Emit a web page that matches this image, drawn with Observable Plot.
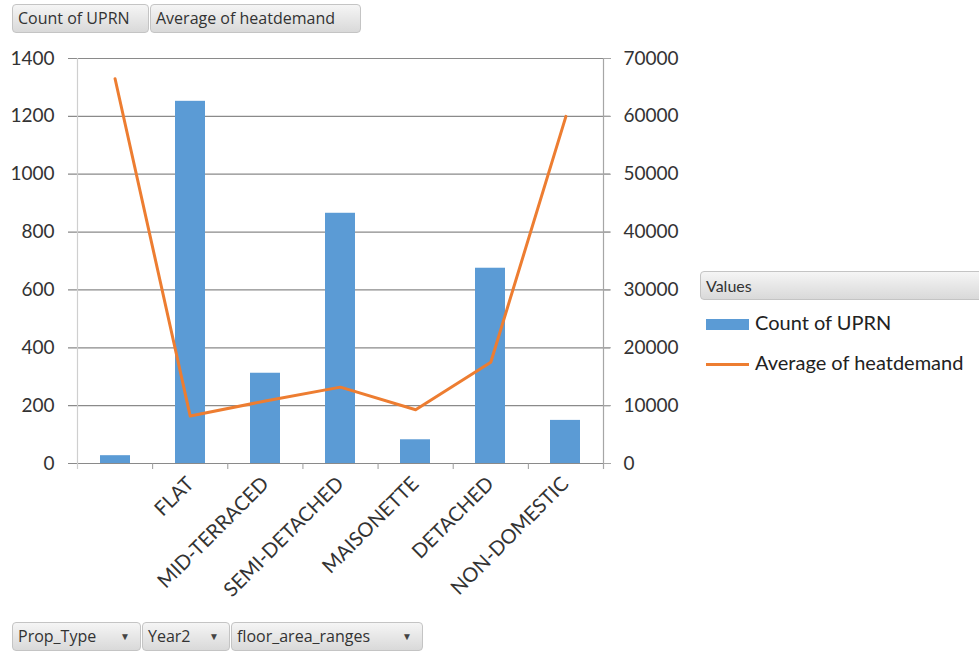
<!DOCTYPE html>
<html>
<head>
<meta charset="utf-8">
<script src="https://cdn.jsdelivr.net/npm/d3@7"></script>
<script src="https://cdn.jsdelivr.net/npm/@observablehq/plot@0.6"></script>
<style>
  html, body { margin: 0; padding: 0; background: #fff; }
  #wrap { position: relative; width: 979px; height: 652px; overflow: hidden; font-family: "Open Sans", sans-serif; }
  .btn {
    position: absolute; box-sizing: border-box; height: 29px;
    background: linear-gradient(#f5f5f5, #d9d9d9);
    border: 1px solid #c4c4c4; border-radius: 4px;
    color: #333; font-size: 16px; line-height: 27px; padding-left: 5px; white-space: nowrap;
  }
  .arrow { position: absolute; right: 10px; top: 0; font-size: 10px; color: #444; }
  .layer { position: absolute; left: 0; top: 0; }
  #legend { position: absolute; left: 700px; top: 271px; width: 300px; font-family: "Lato", sans-serif; }
  .item { position: absolute; left: 6px; font-size: 20px; color: #222; white-space: nowrap; }
  .item .sw { display: inline-block; width: 43px; vertical-align: middle; margin-right: 6px; }
</style>
</head>
<body>
<div id="wrap">
  <div class="btn" style="left:12px;top:4px;width:137px;">Count of UPRN</div>
  <div class="btn" style="left:150px;top:4px;width:211px;">Average of heatdemand</div>
  <div id="chart"></div>
  <div id="legend">
    <div class="btn" style="left:0;top:0;width:290px;">Values</div>
    <div class="item" style="top:39px;"><span class="sw" style="height:11px;background:#5B9BD5;"></span>Count of UPRN</div>
    <div class="item" style="top:79px;"><span class="sw" style="height:3px;background:#ED7D31;"></span>Average of heatdemand</div>
  </div>
  <div class="btn" style="left:12px;top:622px;width:129px;">Prop_Type<span class="arrow">&#9660;</span></div>
  <div class="btn" style="left:142px;top:622px;width:88px;">Year2<span class="arrow">&#9660;</span></div>
  <div class="btn" style="left:231px;top:622px;width:192px;">floor_area_ranges<span class="arrow">&#9660;</span></div>
</div>
<script>
// Property types (the first group has no type recorded)
const categories = ["", "FLAT", "MID-TERRACED", "SEMI-DETACHED", "MAISONETTE", "DETACHED", "NON-DOMESTIC"];
// Count of UPRN per property type (left axis)
const countUPRN = [27, 1252, 312, 865, 82, 675, 149];
// Average heat demand per property type (right axis)
const avgHeat = [66500, 8200, 10800, 13200, 9300, 17500, 60000];
// Axis ticks
const leftTicks = [0, 200, 400, 600, 800, 1000, 1200, 1400];
const rightTicks = [0, 10000, 20000, 30000, 40000, 50000, 60000, 70000];

const rows = categories.map((c, i) => ({type: c, index: i, count: countUPRN[i], heat: avgHeat[i]}));

const W = 700, H = 610;
const M = {marginLeft: 77, marginRight: W - 603, marginTop: 58, marginBottom: H - 463};
const font = {fontFamily: "Lato, sans-serif", fontSize: "19px", color: "#333", background: "transparent", overflow: "visible"};

// Columns on the left scale
const bars = Plot.plot({
  width: W, height: H, ...M, style: font,
  x: {domain: categories, paddingInner: 0.6, paddingOuter: 0.3, label: null},
  y: {domain: [0, 1400], label: null},
  marks: [
    Plot.ruleY(leftTicks, {stroke: "#8a8a8a", strokeWidth: 1.2, insetLeft: -9, insetRight: -7}),
    Plot.barY(rows, {x: "type", y: "count", fill: "#5B9BD5"}),
    Plot.axisY({ticks: leftTicks, tickSize: 0, tickPadding: 23, tickFormat: d => String(d), label: null}),
    Plot.axisX({tickSize: 0, tickPadding: 17, tickRotate: -45, label: null, fontSize: 20})
  ]
});

// Line on the right scale, with category separators
const line = Plot.plot({
  width: W, height: H, ...M, style: font,
  x: {domain: [0, categories.length], label: null, axis: null},
  y: {domain: [0, 70000], label: null, axis: null},
  marks: [
    Plot.ruleX([0], {stroke: "#cfcfcf", strokeWidth: 1.2, insetBottom: -6}),
    Plot.ruleX([categories.length], {stroke: "#a6a6a6", strokeWidth: 1.2, insetBottom: -6}),
    Plot.axisX({ticks: d3.range(1, categories.length), tickSize: 6, tickFormat: () => "", stroke: "#9a9a9a", label: null}),
    Plot.axisY({anchor: "right", ticks: rightTicks, tickSize: 7, tickPadding: 13, stroke: "#a6a6a6", tickFormat: d => String(d), label: null}),
    Plot.line(rows, {x: d => d.index + 0.5, y: "heat", stroke: "#ED7D31", strokeWidth: 3, strokeLinejoin: "round"})
  ]
});

bars.classList.add("layer");
line.classList.add("layer");
const chart = document.getElementById("chart");
chart.appendChild(bars);
chart.appendChild(line);
</script>
</body>
</html>
